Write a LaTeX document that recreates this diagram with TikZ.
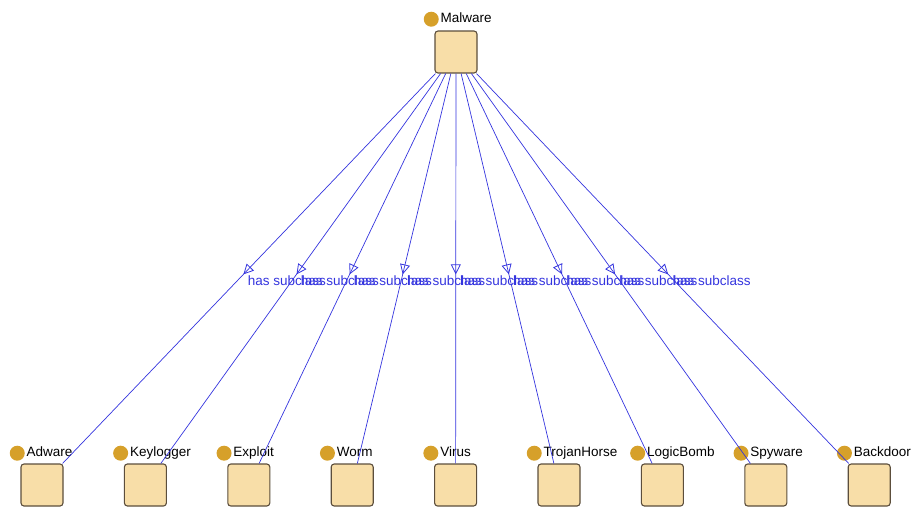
\documentclass[tikz,border=0pt]{standalone}
\usepackage{fontspec}
\setmainfont{Liberation Sans}
\usetikzlibrary{arrows.meta, positioning, decorations.markings}

\definecolor{boxfill}{RGB}{248,222,168}
\definecolor{boxline}{RGB}{92,78,60}
\definecolor{beadgold}{RGB}{214,160,42}
\definecolor{arcblue}{RGB}{52,52,222}

\begin{document}
\begin{tikzpicture}[x=1pt, y=-1pt]
			\tikzset{cls/.style={draw=boxline, fill=boxfill, rounded corners=3pt, line width=1.1pt, minimum size=42pt, inner sep=0pt},
				bead/.style={circle, fill=beadgold, minimum size=15pt, inner sep=0pt},
				tag/.style={font=\fontsize{13.5}{15}\selectfont, inner sep=0pt, text height=9.5pt, text depth=3pt, anchor=base west, label={[bead, label distance=1.5pt]left:{}}},
				subarc/.style={draw=arcblue, line width=0.7pt, postaction={decorate},
					decoration={markings, mark=at position 0.515 with {\arrow{Triangle[open, length=10pt, width=10pt, line width=0.8pt]}}}},
				arclabel/.style={pos=0.515, anchor=north west, inner sep=0pt, xshift=4pt, yshift=-1pt, text=arcblue, font=\fontsize{13.5}{15}\selectfont}}
			
			\useasboundingbox (0,0) rectangle (913,512);
			
			% superclass
			\node[cls] (malware) at (456,52) {};
			\node[tag] (malware-tag) at ([xshift=6pt, yshift=8pt]malware.north west) {Malware};
			
			% subclasses
			\node[cls] (adware) at (42,485) {};
			\node[cls] (keylogger) at (145.4,485) {};
			\node[cls] (exploit) at (248.8,485) {};
			\node[cls] (worm) at (352.2,485) {};
			\node[cls] (virus) at (455.6,485) {};
			\node[cls] (trojan) at (559,485) {};
			\node[cls] (logicbomb) at (662.4,485) {};
			\node[cls] (spyware) at (765.8,485) {};
			\node[cls] (backdoor) at (869.2,485) {};
			
			\node[tag] (adware-tag) at ([xshift=6pt, yshift=7pt]adware.north west) {Adware};
			\node[tag] (keylogger-tag) at ([xshift=6pt, yshift=7pt]keylogger.north west) {Keylogger};
			\node[tag] (exploit-tag) at ([xshift=6pt, yshift=7pt]exploit.north west) {Exploit};
			\node[tag] (worm-tag) at ([xshift=6pt, yshift=7pt]worm.north west) {Worm};
			\node[tag] (virus-tag) at ([xshift=6pt, yshift=7pt]virus.north west) {Virus};
			\node[tag] (trojan-tag) at ([xshift=6pt, yshift=7pt]trojan.north west) {TrojanHorse};
			\node[tag] (logicbomb-tag) at ([xshift=6pt, yshift=7pt]logicbomb.north west) {LogicBomb};
			\node[tag] (spyware-tag) at ([xshift=6pt, yshift=7pt]spyware.north west) {Spyware};
			\node[tag] (backdoor-tag) at ([xshift=6pt, yshift=7pt]backdoor.north west) {Backdoor};
			
			\draw[subarc] (malware) -- node[arclabel] {has subclass} (adware);
			\draw[subarc] (malware) -- node[arclabel] {has subclass} (keylogger);
			\draw[subarc] (malware) -- node[arclabel] {has subclass} (exploit);
			\draw[subarc] (malware) -- node[arclabel] {has subclass} (worm);
			\draw[subarc] (malware) -- node[arclabel] {has subclass} (virus);
			\draw[subarc] (malware) -- node[arclabel] {has subclass} (trojan);
			\draw[subarc] (malware) -- node[arclabel] {has subclass} (logicbomb);
			\draw[subarc] (malware) -- node[arclabel] {has subclass} (spyware);
			\draw[subarc] (malware) -- node[arclabel] {has subclass} (backdoor);
		\end{tikzpicture}
\end{document}
